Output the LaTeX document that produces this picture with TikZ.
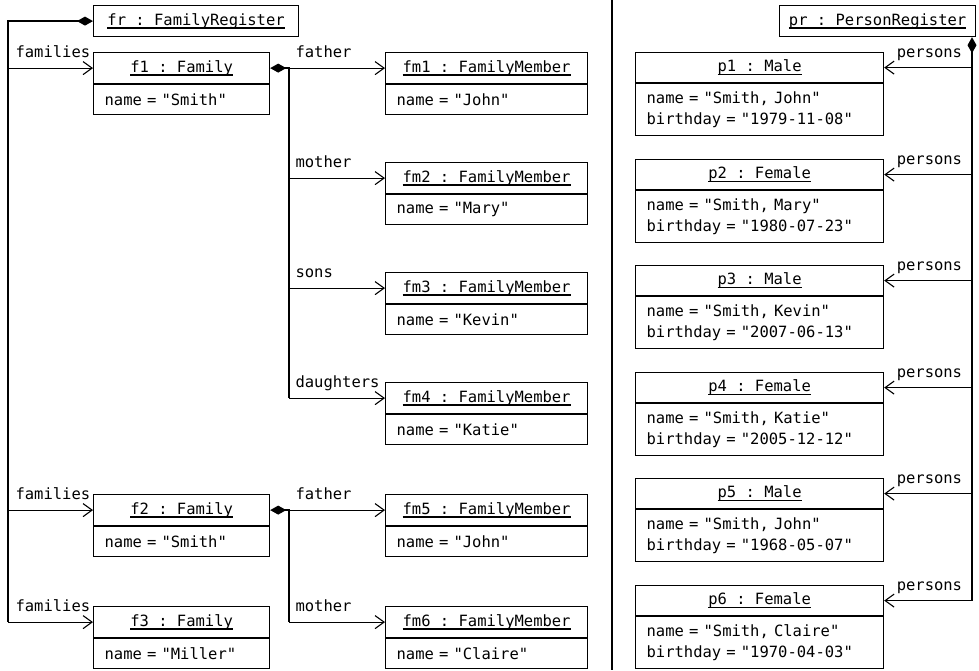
\documentclass[tikz,border=0pt]{standalone}
\usepackage{fontspec}
\setmonofont[WordSpace={1,0,0}]{DejaVu Sans Mono}
\usetikzlibrary{arrows.meta}

% underline drawn at a fixed depth below the baseline
\newcommand\objname[1]{\setbox0\hbox{#1}\rlap{\vrule width\wd0 height -2.0pt depth 3.5pt}\box0}

% object box: name, x, y, width, header height, attribute height, header, attributes
\newcommand\umlobj[8]{%
  \pgfmathsetmacro\attrtw{#4-22}%
  \node[hdr, minimum width=#4, minimum height=#5] (#1) at (#2,#3) {\objname{#7}};
  \node[attrbox, minimum width=#4, minimum height=#6, text width=\attrtw pt] (#1-a) at (#1.south west) {#8};
}

\begin{document}
\frenchspacing
\begin{tikzpicture}[x=1pt, y=-1pt,
  font=\ttfamily\fontsize{15.5}{21}\selectfont\frenchspacing,
  hdr/.style={draw, line width=1.2pt, inner sep=0pt, anchor=north west},
  attrbox/.style={draw, line width=1.2pt, inner xsep=11pt, inner ysep=0pt, anchor=north west, align=left},
  nav/.style={draw, line width=1.1pt, -{Straight Barb[length=9pt,width=13pt]}},
  comp/.style={draw, line width=1.8pt, {Diamond[length=16pt,width=9pt]}-},
  lbl/.style={inner sep=0pt, anchor=base west},
  divider/.style={draw, line width=2pt}]

\useasboundingbox (0,0) rectangle (979,670);

% ---- family side ----
\node[hdr, minimum width=205, minimum height=31] (fr) at (93,5) {\objname{fr : FamilyRegister}};

\umlobj{f1}{93}{52}{176}{31}{30}{f1 : Family}{name = "Smith"}
\umlobj{f2}{93}{494}{176}{31}{30}{f2 : Family}{name = "Smith"}
\umlobj{f3}{93}{606}{176}{31}{30}{f3 : Family}{name = "Miller"}

\umlobj{fm1}{385}{52}{202}{31}{30}{fm1 : FamilyMember}{name = "John"}
\umlobj{fm2}{385}{162}{202}{31}{30}{fm2 : FamilyMember}{name = "Mary"}
\umlobj{fm3}{385}{272}{202}{31}{30}{fm3 : FamilyMember}{name = "Kevin"}
\umlobj{fm4}{385}{382}{202}{31}{30}{fm4 : FamilyMember}{name = "Katie"}
\umlobj{fm5}{385}{494}{202}{31}{30}{fm5 : FamilyMember}{name = "John"}
\umlobj{fm6}{385}{606}{202}{31}{30}{fm6 : FamilyMember}{name = "Claire"}

\coordinate (famx) at (8,0);
\coordinate (fmx) at (289,0);

\draw[comp] (fr.west) -| (famx |- f3.west);
\draw[nav] (famx |- f1.west) -- node[lbl, pos=0, xshift=7, yshift=11] (l-f1) {families} (f1.west);
\draw[nav] (famx |- f2.west) -- node[lbl, pos=0, xshift=7, yshift=11] (l-f2) {families} (f2.west);
\draw[nav] (famx |- f3.west) -- node[lbl, pos=0, xshift=7, yshift=11] (l-f3) {families} (f3.west);

\draw[comp] (f1.east) -| (fmx |- fm4.west);
\draw[nav] (fmx |- fm1.west) -- node[lbl, pos=0, xshift=6, yshift=11] (l-fm1) {father} (fm1.west);
\draw[nav] (fmx |- fm2.west) -- node[lbl, pos=0, xshift=6, yshift=11] (l-fm2) {mother} (fm2.west);
\draw[nav] (fmx |- fm3.west) -- node[lbl, pos=0, xshift=6, yshift=11] (l-fm3) {sons} (fm3.west);
\draw[nav] (fmx |- fm4.west) -- node[lbl, pos=0, xshift=6, yshift=11] (l-fm4) {daughters} (fm4.west);

\draw[comp] (f2.east) -| (fmx |- fm6.west);
\draw[nav] (fmx |- fm5.west) -- node[lbl, pos=0, xshift=6, yshift=11] (l-fm5) {father} (fm5.west);
\draw[nav] (fmx |- fm6.west) -- node[lbl, pos=0, xshift=6, yshift=11] (l-fm6) {mother} (fm6.west);

% ---- separator ----
\coordinate (divtop) at (612,0);
\coordinate (divbot) at (612,670);
\draw[divider] (divtop) -- (divbot);

% ---- person side ----
\node[hdr, minimum width=196, minimum height=31] (pr) at (779,5) {\objname{pr : PersonRegister}};

\umlobj{p1}{635}{52}{248}{30}{52}{p1 : Male}{name = "Smith, John"\\birthday = "1979-11-08"}
\umlobj{p2}{635}{159}{248}{30}{52}{p2 : Female}{name = "Smith, Mary"\\birthday = "1980-07-23"}
\umlobj{p3}{635}{265}{248}{30}{52}{p3 : Male}{name = "Smith, Kevin"\\birthday = "2007-06-13"}
\umlobj{p4}{635}{372}{248}{30}{52}{p4 : Female}{name = "Smith, Katie"\\birthday = "2005-12-12"}
\umlobj{p5}{635}{478}{248}{30}{52}{p5 : Male}{name = "Smith, John"\\birthday = "1968-05-07"}
\umlobj{p6}{635}{585}{248}{30}{52}{p6 : Female}{name = "Smith, Claire"\\birthday = "1970-04-03"}

\coordinate (px) at (972,0);
\draw[comp] (pr.south -| px) -- (px |- p6.east);
\foreach \p in {p1,p2,p3,p4,p5,p6}{
  \draw[nav] (px |- \p.east) -- node[lbl, pos=1, xshift=12, yshift=10] (l-\p) {persons} (\p.east);
}
\end{tikzpicture}
\end{document}
